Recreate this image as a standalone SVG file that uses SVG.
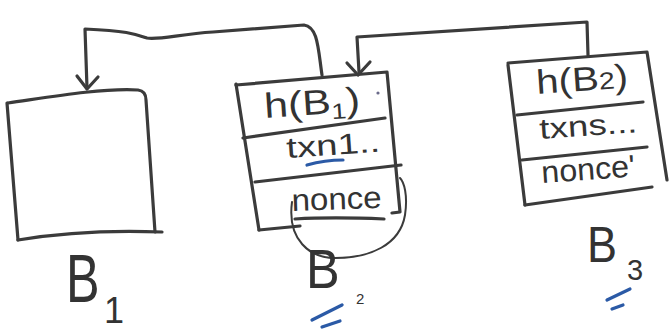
<svg xmlns="http://www.w3.org/2000/svg" width="670" height="333" viewBox="0 0 670 333">
  <style>
    .ink { fill: none; stroke: #3b3b3b; stroke-width: 3.2; stroke-linecap: round; stroke-linejoin: round; }
    .thin { fill: none; stroke: #3b3b3b; stroke-width: 2; stroke-linecap: round; }
    .blue { fill: none; stroke: #2b5aa6; stroke-width: 3.2; stroke-linecap: round; }
    .txt { font-family: "Liberation Sans", "DejaVu Sans", sans-serif; fill: #333333; }
  </style>
  <rect width="670" height="333" fill="#ffffff"/>

  <!-- links: each block points back to the previous one -->
  <g id="connectors">
    <path class="ink" d="M322,75 C318,48 318,27 304,25 L213,32 C180,34 160,40 147,38 C135,34 128,31 85,29 L87,88"/>
    <path class="ink" d="M77,76 L87,89 L98,77"/>
    <path class="ink" d="M588,55 L587,22 L357,37 L359,72"/>
    <path class="ink" d="M347,63 L358,75 L370,62"/>
  </g>

  <!-- block B1 -->
  <g id="B1">
    <path class="ink" d="M8,103 C50,97 100,88 138,90 Q146,91 146,100 L155,232"/>
    <path class="ink" d="M7,103 L18,240"/>
    <path class="ink" d="M18,240 C60,233 110,230 162,232"/>
    <text class="txt" font-size="68" transform="translate(66,302) scale(0.74,1)">B</text>
    <text class="txt" x="104" y="323" font-size="36">1</text>
  </g>

  <!-- block B2 -->
  <g id="B2">
    <path class="ink" d="M236,85 L387,72 L400,212 L392,213"/>
    <path class="ink" d="M236,84 L259,230"/>
    <path class="ink" d="M243,138 L385,118"/>
    <path class="ink" d="M255,182 L401,165"/>
    <path class="ink" d="M259,230 L300,226"/>
    <path class="ink" d="M295,219 C330,217 360,218 384,219"/>
    <path class="thin" d="M292,202 C287,240 310,258 335,258 C370,258 400,245 405,215 C408,195 404,182 400,178"/>
    <circle cx="378" cy="93" r="1.6" fill="#6a6a8a"/>
    <text class="txt" x="265" y="118" font-size="35" textLength="96" lengthAdjust="spacingAndGlyphs" transform="rotate(-4 265 118)">h(B<tspan font-size="22" dy="6">1</tspan><tspan dy="-6">)</tspan></text>
    <text class="txt" x="287" y="158" font-size="29" textLength="94" lengthAdjust="spacingAndGlyphs" transform="rotate(-4 287 158)">txn1..</text>
    <path class="blue" d="M307,165 Q325,160 343,160"/>
    <text class="txt" x="292" y="211" font-size="31" textLength="90" lengthAdjust="spacingAndGlyphs" transform="rotate(-2 292 211)">nonce</text>
    <text class="txt" font-size="56" transform="translate(306,288) scale(0.9,1)">B</text>
    <text class="txt" x="356" y="304" font-size="15">2</text>
    <path class="blue" d="M312,320 L342,305"/>
    <path class="blue" d="M322,327 L340,321"/>
  </g>

  <!-- block B3 -->
  <g id="B3">
    <path class="ink" d="M508,63 L647,52 L667,180"/>
    <path class="ink" d="M508,65 L525,205"/>
    <path class="ink" d="M525,205 L652,187"/>
    <path class="ink" d="M517,115 L643,102"/>
    <path class="ink" d="M522,160 L647,147"/>
    <text class="txt" x="537" y="94" font-size="34" textLength="92" lengthAdjust="spacingAndGlyphs" transform="rotate(-4 537 94)">h(B<tspan font-size="24">2</tspan>)</text>
    <text class="txt" x="540" y="139" font-size="29" textLength="98" lengthAdjust="spacingAndGlyphs" transform="rotate(-4 540 139)">txns...</text>
    <text class="txt" x="542" y="183" font-size="31" textLength="94" lengthAdjust="spacingAndGlyphs" transform="rotate(-4 542 183)">nonce'</text>
    <text class="txt" font-size="50" transform="translate(587,262) scale(0.9,1)">B</text>
    <text class="txt" x="627" y="280" font-size="29">3</text>
    <path class="blue" d="M607,300 L630,289"/>
    <path class="blue" d="M612,309 L623,305"/>
  </g>
</svg>
